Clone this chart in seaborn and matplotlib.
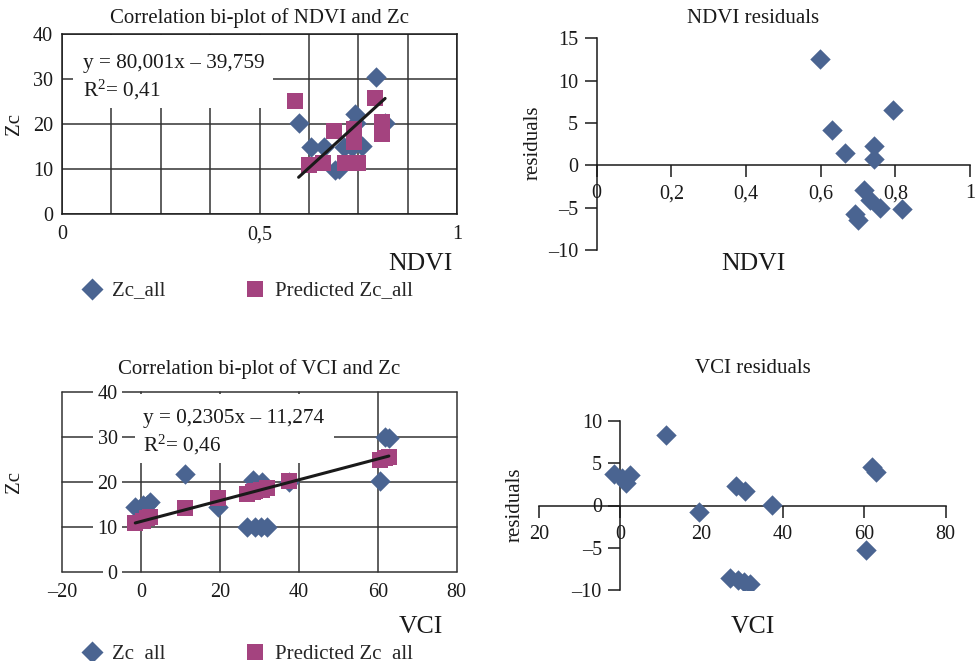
import numpy as np
import matplotlib
matplotlib.use('Agg')
import matplotlib.pyplot as plt
import seaborn as sns
from matplotlib.ticker import FixedLocator, FuncFormatter
from matplotlib.patches import Rectangle

# ---- values ----
# NDVI panel
ndvi = [0.599, 0.630, 0.664, 0.691, 0.701, 0.715, 0.733, 0.742, 0.744, 0.760, 0.794, 0.818]
zc_ndvi = [20.2, 15.0, 15.0, 9.7, 9.9, 15.0, 15.0, 22.3, 20.2, 15.2, 30.4, 20.3]
ndvi_resid = [12.6, 4.2, 1.5, -5.8, -6.4, -2.9, -4.1, 2.3, 0.7, -5.0, 6.5, -5.2]
ndvi_pred_x = [0.590, 0.626, 0.662, 0.689, 0.716, 0.716, 0.739, 0.739, 0.750, 0.793, 0.809, 0.809]
ndvi_pred = [25.1, 10.9, 11.3, 18.4, 11.4, 11.4, 18.9, 16.0, 11.4, 25.7, 20.4, 17.8]
ndvi_slope, ndvi_icpt = 80.001, -39.759

# VCI panel
vci = [-1.5, 0.5, 1.5, 2.3, 11.2, 19.4, 26.9, 28.4, 28.9, 30.4, 30.6, 31.8, 37.4, 60.5, 61.9, 62.8]
zc_vci = [14.5, 14.8, 15.0, 15.6, 21.8, 14.5, 10.0, 20.4, 10.0, 10.0, 20.0, 10.0, 20.0, 20.2, 29.9, 29.7]
vci_resid = [3.7, 3.3, 2.7, 3.6, 8.3, -0.8, -8.6, 2.3, -8.8, -9.1, 1.7, -9.3, 0.1, -5.3, 4.5, 4.0]
vci_pred = [11.0, 11.4, 12.0, 12.3, 14.2, 16.4, 17.4, 17.8, 17.9, 18.2, 18.3, 18.6, 20.2, 24.9, 25.3, 25.5]
# the drawn trend line rises from ~11 at x=0 (the label text says minus)
vci_slope, vci_icpt = 0.2305, 11.274

ndvi_eq = ['y = 80,001x \u2013 39,759', 'R$^{2}$= 0,41']
vci_eq = ['y = 0,2305x \u2013 11,274', 'R$^{2}$= 0,46']
vci_res_xticklabels = ['20', '0', '20', '40', '60', '80']

sns.set_theme(style='ticks')
plt.rcParams['font.family'] = ['Liberation Serif', 'DejaVu Serif']
plt.rcParams['axes.unicode_minus'] = False
plt.rcParams['mathtext.fontset'] = 'custom'
plt.rcParams['mathtext.rm'] = 'Liberation Serif'
plt.rcParams['mathtext.default'] = 'regular'

blue = '#4a6491'
pink = '#a4437f'
ink = '#1a1a1a'
grid_c = '#333333'
W, H = 976, 661
D_SIZE = 108
S_SIZE = 117


def comma(v, pos=None):
    return f'{v:g}'.replace('.', ',').replace('-', '\u2013')


def add_ax(x0, x1, ytop, ybot):
    return fig.add_axes([x0 / W, 1 - ybot / H, (x1 - x0) / W, (ybot - ytop) / H])


fig = plt.figure(figsize=(9.76, 6.61), dpi=100)
fig.patch.set_facecolor('white')

ax1 = add_ax(62, 457, 34, 214)
ax2 = add_ax(596.7, 970, 38.3, 250)
ax3 = add_ax(62.3, 456.7, 391.7, 572.3)
ax4 = add_ax(539, 945.7, 421, 590)


def scatter_pair(ax, x, y, px, py, slope, icpt):
    sns.scatterplot(x=x, y=y, marker='D', s=D_SIZE, color=blue, linewidth=0,
                    label='Zc_all', ax=ax, zorder=3)
    sns.scatterplot(x=px, y=py, marker='s', s=S_SIZE, color=pink, linewidth=0,
                    label='Predicted Zc_all', ax=ax, zorder=4)
    xs = np.array([min(x), max(x)])
    sns.lineplot(x=xs, y=slope * xs + icpt, color=ink, lw=2.2, ax=ax, zorder=5)
    if ax.get_legend() is not None:
        ax.get_legend().remove()


# ---------------- NDVI bi-plot ----------------
scatter_pair(ax1, ndvi, zc_ndvi, ndvi_pred_x, ndvi_pred, ndvi_slope, ndvi_icpt)
ax1.set_xlim(0, 1)
ax1.set_ylim(0, 40)
ax1.xaxis.set_major_locator(FixedLocator([0, 0.5, 1]))
ax1.xaxis.set_minor_locator(FixedLocator(np.arange(0, 1.01, 0.125)))
ax1.yaxis.set_major_locator(FixedLocator([0, 10, 20, 30, 40]))
ax1.xaxis.set_major_formatter(FuncFormatter(comma))
ax1.grid(True, which='both', color=grid_c, lw=1.1)
ax1.tick_params(which='both', length=0, labelsize=14.5, colors=ink)
ax1.tick_params(axis='x', pad=8)
ax1.tick_params(axis='y', pad=6.5)
for s in ax1.spines.values():
    s.set_visible(True)
    s.set_color(ink)
    s.set_linewidth(1.1)
ax1.add_patch(Rectangle((0.028, 0.589), 0.506, 0.405, transform=ax1.transAxes,
                        facecolor='white', edgecolor='none', zorder=1))
ax1.text(0.053, 0.809, ndvi_eq[0], transform=ax1.transAxes, fontsize=15.3,
         va='baseline', color=ink, zorder=6)
ax1.text(0.053, 0.652, ndvi_eq[1], transform=ax1.transAxes, fontsize=15.3,
         va='baseline', color=ink, zorder=6)
ax1.set_xlabel('NDVI', fontsize=18.5, color=ink, ha='right', va='baseline')
ax1.xaxis.set_label_coords(0.99, -0.311)
ax1.set_ylabel('Zc', fontsize=15, color=ink, va='center')
ax1.yaxis.set_label_coords(-0.119, 0.5)

h, l = ax1.get_legend_handles_labels()
fig.legend(h, l, loc='center left', bbox_to_anchor=(81.6 / W, 1 - 290 / H),
           ncol=2, frameon=False, fontsize=15, handlelength=1.0, handletextpad=0.45,
           columnspacing=3.8, borderpad=0, borderaxespad=0, markerscale=1.08)

# ---------------- NDVI residuals ----------------
sns.scatterplot(x=ndvi, y=ndvi_resid, marker='D', s=D_SIZE, color=blue, linewidth=0,
                ax=ax2, zorder=3)
ax2.set_xlim(0, 1)
ax2.set_ylim(-10, 15)
ax2.xaxis.set_major_locator(FixedLocator([0, 0.2, 0.4, 0.6, 0.8, 1]))
ax2.yaxis.set_major_locator(FixedLocator([-10, -5, 0, 5, 10, 15]))
ax2.xaxis.set_major_formatter(FuncFormatter(comma))
ax2.yaxis.set_major_formatter(FuncFormatter(comma))

# ---------------- VCI bi-plot ----------------
scatter_pair(ax3, vci, zc_vci, vci, vci_pred, vci_slope, vci_icpt)
ax3.set_xlim(-20, 80)
ax3.set_ylim(0, 40)
ax3.xaxis.set_major_locator(FixedLocator([-20, 0, 20, 40, 60, 80]))
ax3.yaxis.set_major_locator(FixedLocator([0, 10, 20, 30, 40]))
ax3.xaxis.set_major_formatter(FuncFormatter(comma))
ax3.spines['left'].set_position(('data', 0))
for s in ax3.spines.values():
    s.set_visible(False)
ax3.grid(True, color=grid_c, lw=1.1, clip_on=False)
ax3.tick_params(length=0, labelsize=14.5, colors=ink)
ax3.tick_params(axis='x', pad=8)
ax3.tick_params(axis='y', pad=17)
for lbl in ax3.get_yticklabels():
    lbl.set_bbox(dict(facecolor='white', edgecolor='none', pad=3))
ax3.add_patch(Rectangle((0.184, 0.605), 0.505, 0.385, transform=ax3.transAxes,
                        facecolor='white', edgecolor='none', zorder=1))
ax3.text(0.205, 0.825, vci_eq[0], transform=ax3.transAxes, fontsize=15.3,
         va='baseline', color=ink, zorder=6)
ax3.text(0.205, 0.668, vci_eq[1], transform=ax3.transAxes, fontsize=15.3,
         va='baseline', color=ink, zorder=6)
ax3.set_xlabel('VCI', fontsize=18.5, color=ink, ha='right', va='baseline')
ax3.xaxis.set_label_coords(0.965, -0.338)
ax3.set_ylabel('Zc', fontsize=15, color=ink, va='center')
ax3.yaxis.set_label_coords(-0.12, 0.5)

h, l = ax3.get_legend_handles_labels()
fig.legend(h, l, loc='center left', bbox_to_anchor=(81.6 / W, 1 - 653 / H),
           ncol=2, frameon=False, fontsize=15, handlelength=1.0, handletextpad=0.45,
           columnspacing=3.8, borderpad=0, borderaxespad=0, markerscale=1.08)

# ---------------- VCI residuals ----------------
sns.scatterplot(x=vci, y=vci_resid, marker='D', s=D_SIZE, color=blue, linewidth=0,
                ax=ax4, zorder=3)
ax4.set_xlim(-20, 80)
ax4.set_ylim(-10, 10)
ax4.xaxis.set_major_locator(FixedLocator([-20, 0, 20, 40, 60, 80]))
ax4.set_xticklabels(vci_res_xticklabels)
ax4.yaxis.set_major_locator(FixedLocator([-10, -5, 0, 5, 10]))
ax4.yaxis.set_major_formatter(FuncFormatter(comma))

for ax in (ax2, ax4):
    ax.spines[['top', 'right']].set_visible(False)
    ax.spines['left'].set_position(('data', 0))
    ax.spines['bottom'].set_position(('data', 0))
    for s in ('left', 'bottom'):
        ax.spines[s].set_color(ink)
        ax.spines[s].set_linewidth(1.1)
    ax.tick_params(direction='out', length=8.3, width=1.1, color=ink,
                   labelcolor=ink, labelsize=14.5, left=True, bottom=True)
    ax.tick_params(axis='x', pad=5.5)
    ax.tick_params(axis='y', pad=5)
    ax.set_facecolor('none')

ax2.set_xlabel('NDVI', fontsize=18.5, color=ink, va='baseline')
ax2.xaxis.set_label_coords(0.419, -0.095)
ax2.set_ylabel('residuals', fontsize=15, color=ink, va='center')
ax2.yaxis.set_label_coords(-0.171, 0.505)

ax4.set_xlabel('VCI', fontsize=18.5, color=ink, va='baseline')
ax4.xaxis.set_label_coords(0.526, -0.255)
ax4.set_ylabel('residuals', fontsize=15, color=ink, va='center')
ax4.yaxis.set_label_coords(-0.059, 0.503)

# titles
fig.text(259 / W, 1 - 23.3 / H, 'Correlation bi-plot of NDVI and Zc', ha='center',
         va='baseline', fontsize=15, color=ink)
fig.text(753 / W, 1 - 23.3 / H, 'NDVI residuals', ha='center', va='baseline',
         fontsize=15, color=ink)
fig.text(259 / W, 1 - 374 / H, 'Correlation bi-plot of VCI and Zc', ha='center',
         va='baseline', fontsize=15, color=ink)
fig.text(753 / W, 1 - 373.3 / H, 'VCI residuals', ha='center', va='baseline',
         fontsize=15, color=ink)

fig.savefig('out.png', dpi=100, facecolor='white')
